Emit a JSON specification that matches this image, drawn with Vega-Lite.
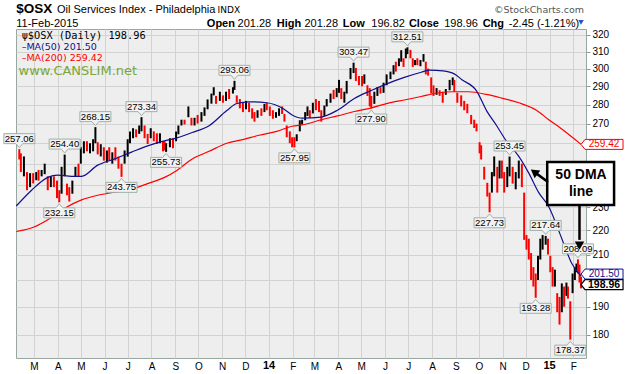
{
"$schema":"https://vega.github.io/schema/vega-lite/v6.json",
"width":570,"height":329,
"autosize":{"type":"none"},
"padding":{"left":16,"top":29,"right":43,"bottom":16},
"background":"white",
"view":{"fill":"#eeeeee","stroke":"#98a8a0","strokeWidth":1},
"config":{"view":{"fill":"#eeeeee","stroke":"#98a8a0","strokeWidth":1},"font":"Liberation Sans"},
"datasets":{
"px":[
{"d":"2013-02-10","o":255,"h":257.06,"v":252,"c":254},
{"d":"2013-02-12","o":254,"h":255,"v":246,"c":247},
{"d":"2013-02-16","o":247,"h":253.5,"v":244,"c":250},
{"d":"2013-02-20","o":250,"h":246,"v":237.6,"c":240},
{"d":"2013-02-24","o":240,"h":245.5,"v":239,"c":243},
{"d":"2013-02-28","o":243,"h":245.5,"v":240.7,"c":242},
{"d":"2013-03-04","o":242,"h":246,"v":242.2,"c":245},
{"d":"2013-03-07","o":245,"h":247,"v":242,"c":243},
{"d":"2013-03-11","o":243,"h":247,"v":244,"c":246},
{"d":"2013-03-15","o":246,"h":250,"v":245,"c":248},
{"d":"2013-03-19","o":248,"h":244,"v":237.6,"c":239},
{"d":"2013-03-23","o":239,"h":244,"v":239,"c":242},
{"d":"2013-03-27","o":242,"h":244,"v":239,"c":241},
{"d":"2013-03-31","o":241,"h":242,"v":234,"c":236},
{"d":"2013-04-03","o":236,"h":237.6,"v":232.15,"c":233},
{"d":"2013-04-06","o":233,"h":248.5,"v":236,"c":246},
{"d":"2013-04-10","o":246,"h":254.4,"v":244,"c":251},
{"d":"2013-04-13","o":251,"h":240.6,"v":235.3,"c":237},
{"d":"2013-04-16","o":237,"h":239,"v":232.5,"c":234},
{"d":"2013-04-20","o":234,"h":242,"v":236,"c":240},
{"d":"2013-04-24","o":240,"h":248.5,"v":244,"c":247},
{"d":"2013-04-28","o":247,"h":250,"v":244,"c":246},
{"d":"2013-05-01","o":246,"h":258,"v":250,"c":256},
{"d":"2013-05-05","o":256,"h":261,"v":255,"c":259},
{"d":"2013-05-09","o":259,"h":261,"v":256,"c":257},
{"d":"2013-05-13","o":257,"h":260,"v":255,"c":258},
{"d":"2013-05-17","o":258,"h":262,"v":256,"c":261},
{"d":"2013-05-20","o":261,"h":268.15,"v":260,"c":264},
{"d":"2013-05-23","o":264,"h":260.5,"v":254.5,"c":256},
{"d":"2013-05-27","o":256,"h":259.5,"v":253.5,"c":257},
{"d":"2013-05-31","o":257,"h":258,"v":251.5,"c":253},
{"d":"2013-06-04","o":253,"h":256.4,"v":250.5,"c":255},
{"d":"2013-06-07","o":255,"h":258,"v":251.5,"c":252},
{"d":"2013-06-11","o":252,"h":255.5,"v":250,"c":254},
{"d":"2013-06-15","o":254,"h":258,"v":251.5,"c":253},
{"d":"2013-06-19","o":253,"h":253.4,"v":247.6,"c":249},
{"d":"2013-06-23","o":249,"h":250,"v":243.75,"c":246},
{"d":"2013-06-27","o":246,"h":256.4,"v":250,"c":255},
{"d":"2013-07-01","o":255,"h":262,"v":253.4,"c":260},
{"d":"2013-07-04","o":260,"h":265.9,"v":260,"c":264},
{"d":"2013-07-08","o":264,"h":267.6,"v":262.5,"c":265},
{"d":"2013-07-12","o":265,"h":267,"v":263,"c":264},
{"d":"2013-07-16","o":264,"h":269,"v":264.7,"c":268},
{"d":"2013-07-19","o":268,"h":273.34,"v":266,"c":270},
{"d":"2013-07-23","o":270,"h":269,"v":262.5,"c":264},
{"d":"2013-07-27","o":264,"h":264.7,"v":259.6,"c":261},
{"d":"2013-07-31","o":261,"h":267.6,"v":262.5,"c":266},
{"d":"2013-08-04","o":266,"h":266,"v":261,"c":263},
{"d":"2013-08-08","o":263,"h":265,"v":259.6,"c":262},
{"d":"2013-08-12","o":262,"h":265,"v":260,"c":264},
{"d":"2013-08-16","o":264,"h":261,"v":256,"c":258},
{"d":"2013-08-18","o":258,"h":261,"v":256.5,"c":257},
{"d":"2013-08-20","o":257,"h":260,"v":255.73,"c":258},
{"d":"2013-08-25","o":258,"h":262.5,"v":258,"c":261},
{"d":"2013-08-29","o":261,"h":262.5,"v":257.5,"c":259},
{"d":"2013-09-02","o":259,"h":265.9,"v":261,"c":264},
{"d":"2013-09-05","o":264,"h":269,"v":264.5,"c":267},
{"d":"2013-09-09","o":267,"h":272,"v":269,"c":271},
{"d":"2013-09-13","o":271,"h":272,"v":269.5,"c":270},
{"d":"2013-09-18","o":270,"h":279,"v":273.3,"c":277},
{"d":"2013-09-22","o":277,"h":273,"v":269,"c":271},
{"d":"2013-09-26","o":271,"h":273,"v":269,"c":272},
{"d":"2013-09-30","o":272,"h":274.5,"v":270,"c":271},
{"d":"2013-10-05","o":271,"h":276,"v":271,"c":275},
{"d":"2013-10-09","o":275,"h":278.5,"v":274,"c":277},
{"d":"2013-10-13","o":277,"h":282.8,"v":277.5,"c":281},
{"d":"2013-10-18","o":281,"h":286,"v":280.5,"c":284},
{"d":"2013-10-21","o":284,"h":289.5,"v":285,"c":288},
{"d":"2013-10-24","o":288,"h":284.7,"v":280.4,"c":282},
{"d":"2013-10-29","o":282,"h":287,"v":282,"c":286},
{"d":"2013-11-02","o":286,"h":285,"v":281,"c":283},
{"d":"2013-11-06","o":283,"h":287,"v":282,"c":286},
{"d":"2013-11-10","o":286,"h":288.5,"v":283,"c":285},
{"d":"2013-11-15","o":285,"h":289.5,"v":286,"c":289},
{"d":"2013-11-17","o":289,"h":293.06,"v":288,"c":290},
{"d":"2013-11-20","o":290,"h":285,"v":281,"c":282},
{"d":"2013-11-24","o":282,"h":283,"v":278,"c":280},
{"d":"2013-11-28","o":280,"h":281,"v":276,"c":279},
{"d":"2013-12-02","o":279,"h":282,"v":277.5,"c":280},
{"d":"2013-12-06","o":280,"h":281,"v":276,"c":277},
{"d":"2013-12-10","o":277,"h":278,"v":272.6,"c":274},
{"d":"2013-12-13","o":274,"h":276,"v":271,"c":273},
{"d":"2013-12-17","o":273,"h":277,"v":273,"c":276},
{"d":"2013-12-22","o":276,"h":278,"v":274,"c":275},
{"d":"2013-12-26","o":275,"h":280.4,"v":276,"c":279},
{"d":"2013-12-29","o":279,"h":281,"v":277,"c":278},
{"d":"2014-01-02","o":278,"h":279,"v":274,"c":275},
{"d":"2014-01-06","o":275,"h":277,"v":272.5,"c":273},
{"d":"2014-01-10","o":273,"h":276,"v":273,"c":275},
{"d":"2014-01-14","o":275,"h":278,"v":274,"c":277},
{"d":"2014-01-18","o":277,"h":279,"v":275,"c":276},
{"d":"2014-01-21","o":276,"h":275,"v":271,"c":272},
{"d":"2014-01-24","o":272,"h":269,"v":263,"c":264},
{"d":"2014-01-28","o":264,"h":266,"v":260,"c":262},
{"d":"2014-01-31","o":262,"h":263,"v":258,"c":260},
{"d":"2014-02-03","o":260,"h":263,"v":257.95,"c":259},
{"d":"2014-02-06","o":259,"h":264.5,"v":261,"c":263},
{"d":"2014-02-10","o":263,"h":271.7,"v":266,"c":270},
{"d":"2014-02-13","o":270,"h":272,"v":269.5,"c":271},
{"d":"2014-02-17","o":271,"h":276,"v":271.7,"c":275},
{"d":"2014-02-20","o":275,"h":279,"v":274,"c":277},
{"d":"2014-02-23","o":277,"h":277,"v":273,"c":274},
{"d":"2014-02-27","o":274,"h":281,"v":275.3,"c":280},
{"d":"2014-03-03","o":280,"h":283,"v":277,"c":279},
{"d":"2014-03-07","o":279,"h":282,"v":276,"c":278},
{"d":"2014-03-10","o":278,"h":277,"v":271,"c":273},
{"d":"2014-03-14","o":273,"h":279.5,"v":274,"c":278},
{"d":"2014-03-17","o":278,"h":283,"v":279,"c":282},
{"d":"2014-03-22","o":282,"h":286,"v":281,"c":285},
{"d":"2014-03-26","o":285,"h":288,"v":283,"c":284},
{"d":"2014-03-30","o":284,"h":289,"v":284,"c":288},
{"d":"2014-04-02","o":288,"h":293.6,"v":286.4,"c":291},
{"d":"2014-04-05","o":291,"h":289,"v":283,"c":285},
{"d":"2014-04-09","o":285,"h":287,"v":281,"c":286},
{"d":"2014-04-12","o":286,"h":293,"v":286,"c":292},
{"d":"2014-04-17","o":292,"h":300.4,"v":294,"c":299},
{"d":"2014-04-21","o":299,"h":303.47,"v":297.5,"c":300},
{"d":"2014-04-24","o":300,"h":300.4,"v":293,"c":294},
{"d":"2014-04-28","o":294,"h":295.8,"v":290.6,"c":293},
{"d":"2014-05-02","o":293,"h":295.8,"v":290,"c":291},
{"d":"2014-05-05","o":291,"h":296.7,"v":291.4,"c":295},
{"d":"2014-05-09","o":295,"h":290.6,"v":284.7,"c":286},
{"d":"2014-05-12","o":286,"h":289,"v":279,"c":281},
{"d":"2014-05-14","o":281,"h":284.7,"v":277.9,"c":279},
{"d":"2014-05-18","o":279,"h":287,"v":280.4,"c":285},
{"d":"2014-05-22","o":285,"h":289.5,"v":284.7,"c":288},
{"d":"2014-05-26","o":288,"h":289.5,"v":286,"c":287},
{"d":"2014-05-30","o":287,"h":292,"v":286.4,"c":291},
{"d":"2014-06-03","o":291,"h":296.7,"v":290.6,"c":295},
{"d":"2014-06-08","o":295,"h":298.3,"v":294,"c":296},
{"d":"2014-06-12","o":296,"h":302,"v":296.7,"c":301},
{"d":"2014-06-15","o":301,"h":304,"v":298.3,"c":299},
{"d":"2014-06-19","o":299,"h":306,"v":301.4,"c":305},
{"d":"2014-06-22","o":305,"h":310.8,"v":304,"c":309},
{"d":"2014-06-25","o":309,"h":306,"v":301,"c":303},
{"d":"2014-06-28","o":303,"h":311.8,"v":306,"c":310},
{"d":"2014-06-30","o":310,"h":312.51,"v":308.5,"c":311},
{"d":"2014-07-04","o":311,"h":311,"v":306,"c":307},
{"d":"2014-07-07","o":307,"h":306,"v":301,"c":302},
{"d":"2014-07-10","o":302,"h":305,"v":302,"c":304},
{"d":"2014-07-13","o":304,"h":306,"v":302,"c":303},
{"d":"2014-07-17","o":303,"h":305,"v":301.4,"c":304},
{"d":"2014-07-21","o":304,"h":308.5,"v":304,"c":307},
{"d":"2014-07-24","o":307,"h":304,"v":296.7,"c":298},
{"d":"2014-07-27","o":298,"h":300,"v":296,"c":297},
{"d":"2014-07-31","o":297,"h":295,"v":286,"c":287},
{"d":"2014-08-03","o":287,"h":290.5,"v":284.7,"c":286},
{"d":"2014-08-07","o":286,"h":289,"v":285.3,"c":288},
{"d":"2014-08-11","o":288,"h":287.8,"v":284.7,"c":286},
{"d":"2014-08-15","o":286,"h":287,"v":281,"c":285},
{"d":"2014-08-19","o":285,"h":288.5,"v":285.3,"c":288},
{"d":"2014-08-24","o":288,"h":293.6,"v":287.8,"c":292},
{"d":"2014-08-28","o":292,"h":295,"v":290.6,"c":293},
{"d":"2014-08-30","o":293,"h":293.6,"v":287,"c":289},
{"d":"2014-09-03","o":289,"h":286.4,"v":281,"c":283},
{"d":"2014-09-08","o":283,"h":285,"v":279,"c":281},
{"d":"2014-09-12","o":281,"h":282,"v":277,"c":278},
{"d":"2014-09-16","o":278,"h":280.4,"v":275.4,"c":277},
{"d":"2014-09-21","o":277,"h":274.5,"v":269.7,"c":271},
{"d":"2014-09-25","o":271,"h":272,"v":267.7,"c":270},
{"d":"2014-09-28","o":270,"h":270,"v":266,"c":267},
{"d":"2014-10-02","o":267,"h":260.5,"v":255,"c":257},
{"d":"2014-10-04","o":257,"h":259,"v":252,"c":253},
{"d":"2014-10-08","o":253,"h":248.5,"v":242.5,"c":244},
{"d":"2014-10-12","o":244,"h":241,"v":234.7,"c":236},
{"d":"2014-10-15","o":236,"h":236.5,"v":227.73,"c":231},
{"d":"2014-10-18","o":231,"h":246,"v":236.5,"c":244},
{"d":"2014-10-21","o":244,"h":253.5,"v":244,"c":250},
{"d":"2014-10-25","o":250,"h":248.5,"v":236.5,"c":239},
{"d":"2014-10-28","o":239,"h":251.5,"v":243,"c":249},
{"d":"2014-10-31","o":249,"h":251.5,"v":243,"c":245},
{"d":"2014-11-03","o":245,"h":246,"v":236.5,"c":240},
{"d":"2014-11-07","o":240,"h":248.5,"v":239,"c":247},
{"d":"2014-11-10","o":247,"h":253.45,"v":244,"c":251},
{"d":"2014-11-14","o":251,"h":248.5,"v":240.6,"c":242},
{"d":"2014-11-18","o":242,"h":246,"v":238,"c":244},
{"d":"2014-11-22","o":244,"h":251.5,"v":243,"c":249},
{"d":"2014-11-26","o":249,"h":250,"v":239,"c":241},
{"d":"2014-11-29","o":241,"h":236.5,"v":216,"c":218},
{"d":"2014-12-02","o":218,"h":218,"v":212,"c":215},
{"d":"2014-12-05","o":215,"h":216.5,"v":208,"c":210},
{"d":"2014-12-08","o":210,"h":210.6,"v":200,"c":202},
{"d":"2014-12-11","o":202,"h":205,"v":197.5,"c":199},
{"d":"2014-12-14","o":199,"h":202.5,"v":193.28,"c":196},
{"d":"2014-12-17","o":196,"h":209.5,"v":200,"c":207},
{"d":"2014-12-20","o":207,"h":216.5,"v":208,"c":214},
{"d":"2014-12-23","o":214,"h":218,"v":212,"c":215},
{"d":"2014-12-27","o":215,"h":217.64,"v":214,"c":216},
{"d":"2014-12-30","o":216,"h":216.5,"v":210,"c":211},
{"d":"2015-01-02","o":211,"h":209.5,"v":203,"c":204},
{"d":"2015-01-05","o":204,"h":205,"v":197.5,"c":199},
{"d":"2015-01-08","o":199,"h":204,"v":197.5,"c":202},
{"d":"2015-01-11","o":202,"h":195,"v":188,"c":190},
{"d":"2015-01-14","o":190,"h":193.6,"v":183.6,"c":186},
{"d":"2015-01-17","o":186,"h":198.7,"v":188,"c":196},
{"d":"2015-01-20","o":196,"h":197.5,"v":190,"c":192},
{"d":"2015-01-23","o":192,"h":199,"v":194,"c":197},
{"d":"2015-01-25","o":197,"h":197.5,"v":193,"c":194},
{"d":"2015-01-28","o":194,"h":192,"v":178.37,"c":182},
{"d":"2015-01-31","o":182,"h":202.5,"v":195,"c":201},
{"d":"2015-02-03","o":201,"h":205,"v":200,"c":204},
{"d":"2015-02-05","o":204,"h":206.4,"v":203,"c":205},
{"d":"2015-02-07","o":205,"h":208.09,"v":202.5,"c":203},
{"d":"2015-02-09","o":203,"h":206,"v":199,"c":201.4},
{"d":"2015-02-11","o":201.41,"h":201.28,"v":196.82,"c":198.96}
],
"ma50":[
{"d":"2013-02-06","v":230.5},{"d":"2013-02-26","v":237.6},{"d":"2013-03-19","v":243.5},{"d":"2013-04-01","v":244.6},
{"d":"2013-04-19","v":244},{"d":"2013-05-02","v":244},{"d":"2013-05-23","v":249.3},{"d":"2013-06-14","v":252.3},
{"d":"2013-07-06","v":255.6},{"d":"2013-07-27","v":258.7},{"d":"2013-08-14","v":260.8},{"d":"2013-09-03","v":262.7},
{"d":"2013-09-23","v":265.4},{"d":"2013-10-15","v":268.9},{"d":"2013-11-07","v":276.8},{"d":"2013-11-20","v":280.6},
{"d":"2013-12-06","v":281.5},{"d":"2013-12-29","v":281},{"d":"2014-01-18","v":278.2},{"d":"2014-01-31","v":274.5},
{"d":"2014-02-13","v":272.8},{"d":"2014-03-10","v":273.4},{"d":"2014-03-31","v":277},{"d":"2014-04-22","v":283.3},
{"d":"2014-05-14","v":287.7},{"d":"2014-06-04","v":291.5},{"d":"2014-06-26","v":295},{"d":"2014-07-18","v":297.9},
{"d":"2014-07-29","v":299.2},{"d":"2014-08-15","v":298.7},{"d":"2014-08-30","v":297},{"d":"2014-09-09","v":293.7},
{"d":"2014-09-28","v":287.5},{"d":"2014-10-11","v":276.8},{"d":"2014-10-24","v":269},{"d":"2014-11-06","v":261},
{"d":"2014-11-22","v":253.5},{"d":"2014-12-05","v":245.5},{"d":"2014-12-18","v":236.5},{"d":"2014-12-31","v":230.2},
{"d":"2015-01-17","v":216.5},{"d":"2015-01-30","v":206.4},{"d":"2015-02-11","v":201.5}
],
"ma200":[
{"d":"2013-02-06","v":219.5},{"d":"2013-03-02","v":221.5},{"d":"2013-03-19","v":224.5},{"d":"2013-04-10","v":229.5},
{"d":"2013-05-02","v":233.2},{"d":"2013-05-23","v":235.3},{"d":"2013-06-14","v":236.7},{"d":"2013-07-06","v":238},
{"d":"2013-07-27","v":240.6},{"d":"2013-08-18","v":243.5},{"d":"2013-09-03","v":246.8},{"d":"2013-09-23","v":252.3},
{"d":"2013-10-15","v":256},{"d":"2013-11-07","v":260},{"d":"2013-11-28","v":261.8},{"d":"2013-12-19","v":264},
{"d":"2014-01-11","v":266},{"d":"2014-01-31","v":268.6},{"d":"2014-02-16","v":269.5},{"d":"2014-03-10","v":272},
{"d":"2014-03-31","v":274},{"d":"2014-04-22","v":276.3},{"d":"2014-05-14","v":278.2},{"d":"2014-06-04","v":280.7},
{"d":"2014-06-26","v":282.5},{"d":"2014-07-18","v":284.4},{"d":"2014-08-08","v":286.3},{"d":"2014-08-30","v":287},
{"d":"2014-09-18","v":287},{"d":"2014-10-11","v":285.5},{"d":"2014-10-31","v":283.5},{"d":"2014-11-22","v":281},
{"d":"2014-12-15","v":277},{"d":"2014-12-31","v":272},{"d":"2015-01-13","v":268.3},{"d":"2015-02-11","v":259.42}
],
"labUp":[
{"d":"2013-02-10","v":257.06},{"d":"2013-04-10","v":254.40},{"d":"2013-05-20","v":268.15},{"d":"2013-07-19","v":273.34},
{"d":"2013-11-17","v":293.06},{"d":"2014-04-21","v":303.47},{"d":"2014-06-30","v":312.51},{"d":"2014-11-10","v":253.45},
{"d":"2014-12-27","v":217.64},{"d":"2015-02-07","v":208.09}
],
"labDn":[
{"d":"2013-04-03","v":232.15},{"d":"2013-06-23","v":243.75},{"d":"2013-08-20","v":255.73},{"d":"2014-02-03","v":257.95},
{"d":"2014-05-14","v":277.90},{"d":"2014-10-15","v":227.73},{"d":"2014-12-14","v":193.28},{"d":"2015-01-28","v":178.37}
]
},
"encoding":{
 "x":{"field":"d","type":"temporal","scale":{"type":"utc","domain":[1360080000000,1424171520000]},
  "axis":{"orient":"bottom","title":null,
   "values":[{"year":2013,"month":3,"date":1,"utc":true},{"year":2013,"month":4,"date":1,"utc":true},{"year":2013,"month":5,"date":1,"utc":true},{"year":2013,"month":6,"date":1,"utc":true},{"year":2013,"month":7,"date":1,"utc":true},{"year":2013,"month":8,"date":1,"utc":true},{"year":2013,"month":9,"date":1,"utc":true},{"year":2013,"month":10,"date":1,"utc":true},{"year":2013,"month":11,"date":1,"utc":true},{"year":2013,"month":12,"date":1,"utc":true},{"year":2014,"month":1,"date":1,"utc":true},{"year":2014,"month":2,"date":1,"utc":true},{"year":2014,"month":3,"date":1,"utc":true},{"year":2014,"month":4,"date":1,"utc":true},{"year":2014,"month":5,"date":1,"utc":true},{"year":2014,"month":6,"date":1,"utc":true},{"year":2014,"month":7,"date":1,"utc":true},{"year":2014,"month":8,"date":1,"utc":true},{"year":2014,"month":9,"date":1,"utc":true},{"year":2014,"month":10,"date":1,"utc":true},{"year":2014,"month":11,"date":1,"utc":true},{"year":2014,"month":12,"date":1,"utc":true},{"year":2015,"month":1,"date":1,"utc":true},{"year":2015,"month":2,"date":1,"utc":true}],
   "grid":true,"gridColor":"#d2d2d2","gridWidth":1,"domain":false,"ticks":false,"labelPadding":3,"labelOverlap":false,"labelFlush":false,"labelBound":false,"labelColor":"#000000","labelFont":"Liberation Sans","labelFontSize":10,
   "labelExpr":"utcmonth(datum.value)==0 ? '' : slice(utcFormat(datum.value,'%b'),0,1)"}},
 "y":{"field":"v","type":"quantitative","scale":{"type":"log","domain":[172.2,323.7],"nice":false,"zero":false},
  "axis":{"orient":"right","title":null,"values":[180,190,200,210,220,230,240,250,260,270,280,290,300,310,320],"format":"d","labelExpr":"datum.value==200 || datum.value==240 || datum.value==250 || datum.value==260 ? '' : datum.label","grid":true,"gridColor":"#d2d2d2","gridWidth":1,"domain":false,"tickSize":4,"tickColor":"#8a9a94","labelPadding":2,"labelFontSize":10,"labelFont":"Liberation Sans","labelColor":"#000000","labelOverlap":false,"labelBound":false}}
},
"layer":[
{"data":{"name":"px"},
 "mark":{"type":"rule","strokeWidth":2},
 "encoding":{
  "y2":{"field":"h"},
  "color":{"condition":{"test":"datum.c < datum.o","value":"#ff0000"},"value":"#000000"}}},
{"data":{"name":"ma200"},"mark":{"type":"line","color":"#ff0000","strokeWidth":1.2,"interpolate":"monotone"}},
{"data":{"name":"ma50"},"mark":{"type":"line","color":"#10108f","strokeWidth":1.2,"interpolate":"monotone"}},
{"data":{"values":[{"d":"2014-01-01","v":169.6,"t":"14"},{"d":"2015-01-01","v":169.6,"t":"15"}]},
 "mark":{"type":"text","fontSize":11,"fontWeight":"bold","font":"Liberation Sans","align":"center","baseline":"middle","color":"#000000"},
 "encoding":{"text":{"field":"t"}}},
{"data":{"name":"labUp"},
 "mark":{"type":"point","shape":"M-1,-1 L1,-1 L1,-0.355 L0.22,-0.355 L0,-0.1 L-0.22,-0.355 L-1,-0.355 Z","size":961,"filled":true,"fill":"#f2f2f2","stroke":"#9fb0a8","strokeWidth":1,"opacity":1}},
{"data":{"name":"labUp"},
 "mark":{"type":"text","dy":-10.5,"fontSize":9.5,"font":"Liberation Sans","baseline":"middle","align":"center","color":"#000000"},
 "encoding":{"text":{"field":"v","type":"quantitative","format":".2f"}}},
{"data":{"name":"labDn"},
 "mark":{"type":"point","shape":"M-1,1 L1,1 L1,0.355 L0.22,0.355 L0,0.1 L-0.22,0.355 L-1,0.355 Z","size":961,"filled":true,"fill":"#f2f2f2","stroke":"#9fb0a8","strokeWidth":1,"opacity":1}},
{"data":{"name":"labDn"},
 "mark":{"type":"text","dy":10.5,"fontSize":9.5,"font":"Liberation Sans","baseline":"middle","align":"center","color":"#000000"},
 "encoding":{"text":{"field":"v","type":"quantitative","format":".2f"}}},
{"data":{"values":[{"d":"2015-02-11","v":259.42}]},
 "mark":{"type":"point","shape":"M0,0 L0.2,-0.25 L2.1,-0.25 L2.1,0.25 L0.2,0.25 Z","size":1600,"filled":true,"fill":"#ffffff","stroke":"#ff0000","strokeWidth":1,"opacity":1}},
{"data":{"values":[{"d":"2015-02-11","v":259.42}]},
 "mark":{"type":"text","dx":23,"fontSize":10,"font":"Liberation Sans","baseline":"middle","align":"center","color":"#ff0000"},
 "encoding":{"text":{"field":"v","type":"quantitative","format":".2f"}}},
{"data":{"values":[{"d":"2015-02-11","v":201.5}]},
 "mark":{"type":"point","shape":"M0,-0.1 L0.2,-0.35 L2.1,-0.35 L2.1,0.15 L0.2,0.15 Z","size":1600,"filled":true,"fill":"#ffffff","stroke":"#10108f","strokeWidth":1,"opacity":1}},
{"data":{"values":[{"d":"2015-02-11","v":201.5}]},
 "mark":{"type":"text","dx":23,"dy":-2,"fontSize":10,"font":"Liberation Sans","baseline":"middle","align":"center","color":"#10108f"},
 "encoding":{"text":{"field":"v","type":"quantitative","format":".2f"}}},
{"data":{"values":[{"d":"2015-02-11","v":198.96}]},
 "mark":{"type":"point","shape":"M0,0.1 L0.2,-0.15 L2.1,-0.15 L2.1,0.35 L0.2,0.35 Z","size":1600,"filled":true,"fill":"#ffffff","stroke":"#000000","strokeWidth":1.2,"opacity":1}},
{"data":{"values":[{"d":"2015-02-11","v":198.96}]},
 "mark":{"type":"text","dx":23,"dy":2,"fontSize":10.5,"fontWeight":"bold","font":"Liberation Sans","baseline":"middle","align":"center","color":"#000000"},
 "encoding":{"text":{"field":"v","type":"quantitative","format":".2f"}}},
{"data":{"values":[{"d":"2013-02-06","v":333.8,"t":"$OSX"}]},
 "mark":{"type":"text","fontSize":13.5,"fontWeight":"bold","font":"Liberation Sans","align":"left","baseline":"alphabetic","color":"#000000"},
 "encoding":{"text":{"field":"t"}}},
{"data":{"values":[{"d":"2013-03-31","v":333.6,"t":"Oil Services Index - Philadelphia"}]},
 "mark":{"type":"text","fontSize":11,"font":"Liberation Sans","align":"left","baseline":"alphabetic","color":"#000000"},
 "encoding":{"text":{"field":"t"}}},
{"data":{"values":[{"d":"2013-10-26","v":333.6,"t":"INDX"}]},
 "mark":{"type":"text","fontSize":9,"font":"DejaVu Sans","align":"left","baseline":"alphabetic","color":"#000000"},
 "encoding":{"text":{"field":"t"}}},
{"data":{"values":[{"d":"2015-02-15","v":333.6,"t":"©StockCharts.com"}]},
 "mark":{"type":"text","fontSize":9.5,"font":"DejaVu Sans","align":"right","baseline":"alphabetic","color":"#555555"},
 "encoding":{"text":{"field":"t"}}},
{"data":{"values":[{"d":"2013-02-06","v":325.2,"t":"11-Feb-2015"},{"d":"2013-11-21","v":325.2,"t":"201.28"},{"d":"2014-02-16","v":325.2,"t":"201.28"},{"d":"2014-05-14","v":325.2,"t":"196.82"},{"d":"2014-08-17","v":325.2,"t":"198.96"},{"d":"2014-11-09","v":325.2,"t":"-2.45 (-1.21%)"}]},
 "mark":{"type":"text","fontSize":11,"font":"Liberation Sans","align":"left","baseline":"alphabetic","color":"#000000"},
 "encoding":{"text":{"field":"t"}}},
{"data":{"values":[{"d":"2013-10-12","v":325.2,"t":"Open"},{"d":"2014-01-11","v":325.2,"t":"High"},{"d":"2014-04-07","v":325.2,"t":"Low"},{"d":"2014-07-02","v":325.2,"t":"Close"},{"d":"2014-10-06","v":325.2,"t":"Chg"}]},
 "mark":{"type":"text","fontSize":11,"fontWeight":"bold","font":"Liberation Sans","align":"left","baseline":"alphabetic","color":"#000000"},
 "encoding":{"text":{"field":"t"}}},
{"data":{"values":[{"d":"2015-02-11","v":327.8}]},
 "mark":{"type":"point","shape":"triangle-down","size":30,"filled":true,"color":"#2a52d0","opacity":1}},
{"data":{"values":[{"d":"2013-02-13","v":319.6,"t":"ψ$OSX (Daily) 198.96"}]},
 "mark":{"type":"text","fontSize":10.3,"font":"DejaVu Sans Mono","align":"left","baseline":"middle","color":"#000000"},
 "encoding":{"text":{"field":"t"}}},
{"data":{"values":[{"d":"2013-02-13","v":312.9,"t":"–MA(50) 201.50"}]},
 "mark":{"type":"text","fontSize":9.5,"font":"DejaVu Sans","align":"left","baseline":"middle","color":"#10108f"},
 "encoding":{"text":{"field":"t"}}},
{"data":{"values":[{"d":"2013-02-13","v":306.4,"t":"–MA(200) 259.42"}]},
 "mark":{"type":"text","fontSize":9.5,"font":"DejaVu Sans","align":"left","baseline":"middle","color":"#ff0000"},
 "encoding":{"text":{"field":"t"}}},
{"data":{"values":[{"d":"2013-02-09","v":298.6,"t":"www.CANSLIM.net"}]},
 "mark":{"type":"text","fontSize":13,"font":"DejaVu Sans","align":"left","baseline":"middle","color":"#7aa63c"},
 "encoding":{"text":{"field":"t"}}},
{"data":{"values":[{"d":"2014-12-29","d2":"2015-03-26","v":250.8,"v2":230.9}]},
 "mark":{"type":"rect","fill":"#ffffff","stroke":"#000000","strokeWidth":2.5},
 "encoding":{"x2":{"field":"d2"},"y2":{"field":"v2"}}},
{"data":{"values":[{"d":"2015-02-11","v":244.6,"t":"50 DMA"},{"d":"2015-02-11","v":236.7,"t":"line"}]},
 "mark":{"type":"text","fontSize":14,"fontWeight":"bold","font":"Liberation Sans","align":"center","baseline":"middle","color":"#000000"},
 "encoding":{"text":{"field":"t"}}},
{"data":{"values":[{"g":"a","d":"2014-12-30","v":241.4},{"g":"a","d":"2014-12-12","v":246.1},{"g":"b","d":"2015-02-09","v":230.9},{"g":"b","d":"2015-02-09","v":216.0}]},
 "mark":{"type":"line","color":"#000000","strokeWidth":2.5},
 "encoding":{"detail":{"field":"g","type":"nominal"}}},
{"data":{"values":[{"d":"2014-12-12","v":246.1}]},
 "mark":{"type":"point","shape":"triangle-up","angle":307,"size":90,"filled":true,"color":"#000000","opacity":1}},
{"data":{"values":[{"d":"2015-02-09","v":213.6}]},
 "mark":{"type":"point","shape":"triangle-down","size":90,"filled":true,"color":"#000000","opacity":1}}
]
}
